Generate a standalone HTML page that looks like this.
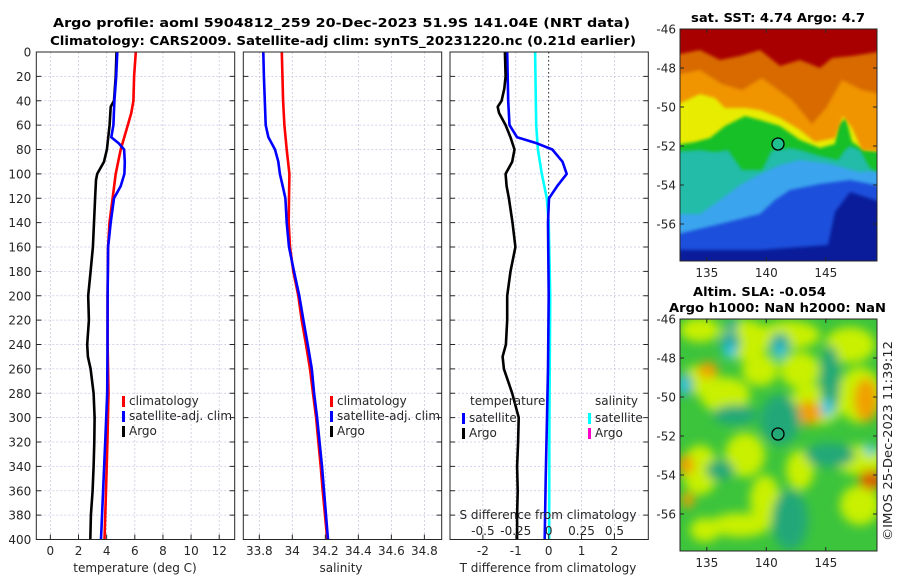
<!DOCTYPE html>
<html><head><meta charset="utf-8">
<style>
body{margin:0;background:#fff;}
svg{display:block;font-family:"DejaVu Sans","Liberation Sans",sans-serif;}
.t{font-size:12px;fill:#262626;}
.b{font-size:12.5px;font-weight:bold;fill:#000;}
</style></head>
<body>
<svg id="fig" width="900" height="580" viewBox="0 0 900 580" xmlns="http://www.w3.org/2000/svg">
<defs>
<filter id="blur" x="-20%" y="-20%" width="140%" height="140%"><feGaussianBlur stdDeviation="5"/></filter>
<filter id="blur2" x="-20%" y="-20%" width="140%" height="140%"><feGaussianBlur stdDeviation="1.5"/></filter>
<clipPath id="c1"><rect x="680" y="29" width="197" height="232"/></clipPath>
<clipPath id="c2"><rect x="680" y="319" width="197" height="232"/></clipPath>
</defs>
<text class="b" x="53" y="27" textLength="577" lengthAdjust="spacingAndGlyphs">Argo profile: aoml 5904812_259 20-Dec-2023 51.9S 141.04E (NRT data)</text>
<text class="b" x="50" y="45" textLength="586" lengthAdjust="spacingAndGlyphs">Climatology: CARS2009. Satellite-adj clim: synTS_20231220.nc (0.21d earlier)</text>

<!-- SST map -->
<g clip-path="url(#c1)">
<rect x="680" y="29" width="197" height="232" fill="#0a1c9a"/>
<polygon fill="#1a50dc" filter="url(#blur2)" points="670,20 890,20 890,205 850,192 835,212 828,245 760,250 670,250"/>
<polygon fill="#3aa4ee" filter="url(#blur2)" points="670,20 890,20 890,188 850,180 820,184 790,190 775,200 760,214 720,224 670,236"/>
<polygon fill="#22bca8" filter="url(#blur2)" points="670,20 890,20 890,170 860,172 830,164 800,160 780,165 760,174 740,185 720,200 700,214 670,214"/>
<polygon fill="#12c028" filter="url(#blur2)" points="670,20 890,20 890,178 870,168 860,150 850,146 845,150 838,160 820,156 800,150 790,148 772,150 762,170 742,170 728,150 715,152 700,150 670,152"/>
<polygon fill="#e8ec00" filter="url(#blur2)" points="670,20 890,20 890,152 865,150 852,142 846,118 838,124 835,144 820,148 800,140 780,126 760,120 745,116 725,126 710,138 695,142 670,146"/>
<polygon fill="#f09400" filter="url(#blur2)" points="670,20 890,20 890,152 862,150 852,128 843,116 835,138 815,142 800,130 780,118 760,110 745,108 725,108 715,98 700,94 670,108"/>
<polygon fill="#d86a00" filter="url(#blur2)" points="670,20 890,20 890,96 862,90 842,80 826,108 812,124 792,100 762,78 742,90 722,84 700,70 670,76"/>
<polygon fill="#a80000" filter="url(#blur2)" points="670,20 890,20 890,50 852,56 832,58 820,68 800,60 780,66 760,50 740,56 720,60 700,50 670,56"/>
<circle cx="778" cy="144" r="6" fill="#20c090" stroke="#000" stroke-width="1.3"/>
</g>
<rect x="680" y="29" width="197" height="232" fill="none" stroke="#262626" stroke-width="1"/>
<text class="b" x="691" y="22" textLength="174" lengthAdjust="spacingAndGlyphs">sat. SST: 4.74 Argo: 4.7</text>

<!-- SLA map -->
<g clip-path="url(#c2)">
<rect x="680" y="319" width="197" height="232" fill="#3cc43c"/>
<g filter="url(#blur)">
<ellipse cx="700" cy="330" rx="20" ry="12" fill="#c8f000"/>
<ellipse cx="745" cy="340" rx="25" ry="20" fill="#c8f000"/>
<ellipse cx="790" cy="335" rx="30" ry="14" fill="#c8f000"/>
<ellipse cx="850" cy="345" rx="25" ry="18" fill="#c8f000"/>
<ellipse cx="700" cy="380" rx="18" ry="15" fill="#c8f000"/>
<ellipse cx="725" cy="395" rx="25" ry="18" fill="#c8f000"/>
<ellipse cx="760" cy="370" rx="18" ry="16" fill="#c8f000"/>
<ellipse cx="800" cy="370" rx="20" ry="18" fill="#c8f000"/>
<ellipse cx="815" cy="405" rx="28" ry="20" fill="#c8f000"/>
<ellipse cx="860" cy="395" rx="22" ry="28" fill="#c8f000"/>
<ellipse cx="700" cy="470" rx="18" ry="25" fill="#c8f000"/>
<ellipse cx="745" cy="455" rx="20" ry="22" fill="#c8f000"/>
<ellipse cx="765" cy="500" rx="15" ry="25" fill="#c8f000"/>
<ellipse cx="740" cy="525" rx="30" ry="12" fill="#c8f000"/>
<ellipse cx="800" cy="470" rx="14" ry="20" fill="#c8f000"/>
<ellipse cx="860" cy="460" rx="25" ry="15" fill="#c8f000"/>
<ellipse cx="860" cy="505" rx="20" ry="20" fill="#c8f000"/>
<ellipse cx="705" cy="530" rx="15" ry="12" fill="#c8f000"/>
<ellipse cx="708" cy="370" rx="10" ry="8" fill="#f0a000"/>
<ellipse cx="808" cy="413" rx="14" ry="12" fill="#f0a000"/>
<ellipse cx="866" cy="400" rx="12" ry="22" fill="#f0a000"/>
<ellipse cx="686" cy="465" rx="8" ry="10" fill="#f0a000"/>
<ellipse cx="688" cy="500" rx="6" ry="8" fill="#f0a000"/>
<ellipse cx="871" cy="480" rx="12" ry="10" fill="#d86000"/>
<ellipse cx="735" cy="415" rx="22" ry="10" fill="#20a878"/>
<ellipse cx="780" cy="420" rx="20" ry="25" fill="#20a878"/>
<ellipse cx="720" cy="470" rx="14" ry="10" fill="#20a878"/>
<ellipse cx="830" cy="455" rx="25" ry="12" fill="#20a878"/>
<ellipse cx="790" cy="520" rx="18" ry="30" fill="#20a878"/>
<ellipse cx="830" cy="380" rx="10" ry="35" fill="#20a878"/>
<ellipse cx="730" cy="343" rx="10" ry="12" fill="#20a8a0"/>
<ellipse cx="780" cy="345" rx="10" ry="12" fill="#20a8a0"/>
<ellipse cx="685" cy="385" rx="8" ry="12" fill="#20a8a0"/>
<ellipse cx="730" cy="352" rx="6" ry="7" fill="#30c8e8"/>
<ellipse cx="780" cy="352" rx="5" ry="7" fill="#30c8e8"/>
<ellipse cx="827" cy="408" rx="6" ry="9" fill="#30c8e8"/>
<ellipse cx="870" cy="450" rx="5" ry="6" fill="#30c8e8"/>
<ellipse cx="684" cy="385" rx="5" ry="8" fill="#30c8e8"/>
<ellipse cx="732" cy="325" rx="6" ry="6" fill="#20a8a0"/>
</g>
<circle cx="778" cy="434" r="6" fill="none" stroke="#000" stroke-width="1.3"/>
</g>
<rect x="680" y="319" width="197" height="232" fill="none" stroke="#262626" stroke-width="1"/>
<text class="b" x="693" y="296" textLength="133" lengthAdjust="spacingAndGlyphs">Altim. SLA: -0.054</text>
<text class="b" x="669" y="312" textLength="217" lengthAdjust="spacingAndGlyphs">Argo h1000: NaN h2000: NaN</text>
<text class="t" transform="translate(892,441) rotate(-90)" text-anchor="middle" textLength="200" lengthAdjust="spacingAndGlyphs">©IMOS 25-Dec-2023 11:39:12</text>

<g id="plots"></g>
</svg>
<script>
const depthTicks = [0,20,40,60,80,100,120,140,160,180,200,220,240,260,280,300,320,340,360,380,400];
const tTicks = [0,2,4,6,8,10,12];
const sTicks = [33.8,34,34.2,34.4,34.6,34.8];
const sTickLabels = ["33.8","34","34.2","34.4","34.6","34.8"];
const dTicks = [-2,-1,0,1,2];
const sdTickLabels = ["-0.5","-0.25","0","0.25","0.5"];
const sdTicks = [-0.5,-0.25,0,0.25,0.5];
const latTicks = [-46,-48,-50,-52,-54,-56];
const lonTicks = [135,140,145];

const tClimDepth = [0,20,40,50,60,80,100,120,140,160,200,240,280,320,360,400];
const tClim = [6.07,5.95,5.9,5.75,5.5,5.0,4.64,4.42,4.2,4.1,4.07,4.07,4.13,4.05,3.95,3.85];
const tSatDepth = [0,20,40,60,70,75,80,90,100,110,120,140,160,200,240,280,320,360,400];
const tSat = [4.76,4.68,4.55,4.48,4.33,4.86,5.24,5.29,5.26,5.0,4.52,4.29,4.1,4.07,4.06,4.04,3.9,3.75,3.6];
const tArgoDepth = [0,20,40,45,60,80,90,100,105,120,140,160,180,200,220,240,250,260,280,300,320,340,360,380,400];
const tArgo = [4.7,4.64,4.52,4.29,4.21,4.02,3.81,3.33,3.24,3.18,3.1,3.02,2.86,2.69,2.74,2.62,2.67,2.86,3.07,3.14,3.12,3.07,3.0,2.88,2.84];

const sClimDepth = [0,40,60,80,100,120,140,160,180,200,220,240,260,280,300,320,340,360,380,400];
const sClim = [33.936,33.944,33.952,33.966,33.982,33.98,33.978,33.986,34.006,34.036,34.057,34.083,34.107,34.125,34.144,34.158,34.172,34.184,34.198,34.212];
const sSatDepth = [0,20,40,60,70,80,90,100,110,120,140,160,180,200,220,240,260,280,300,340,400];
const sSat = [33.824,33.828,33.833,33.839,33.855,33.895,33.915,33.925,33.942,33.958,33.966,33.98,34.01,34.042,34.067,34.093,34.118,34.132,34.15,34.18,34.216];

const dTSatDepth = [0,40,60,70,75,80,90,100,110,120,140,200,260,300,350,400];
const dTSat = [-1.26,-1.23,-1.19,-0.96,-0.35,0.11,0.42,0.55,0.26,0.01,-0.02,0.0,-0.02,-0.05,-0.09,-0.12];
const dTArgoDepth = [0,20,30,40,45,50,60,70,80,90,100,110,120,140,160,180,200,220,240,250,260,280,300,320,340,360,380,400];
const dTArgo = [-1.33,-1.31,-1.35,-1.43,-1.55,-1.51,-1.31,-1.16,-1.04,-1.11,-1.31,-1.28,-1.21,-1.1,-1.01,-1.16,-1.26,-1.26,-1.3,-1.4,-1.36,-1.11,-0.91,-0.93,-0.96,-0.94,-0.96,-0.96];
const dSSatDepth = [0,60,80,100,120,140,200,300,400];
const dSSat = [-0.103,-0.095,-0.082,-0.052,-0.014,0.0,0.012,0.006,0.003];

const NS = 'http://www.w3.org/2000/svg';
const root = document.getElementById('plots');
const Y0 = 52, Y1 = 539.5;
const yScale = d => Y0 + (d/400)*(Y1-Y0);
function mk(tag, attrs, parent){ const e=document.createElementNS(NS,tag); for(const k in attrs) e.setAttribute(k,attrs[k]); (parent||root).appendChild(e); return e; }
function txt(x,y,s,anchor,parent){ const e=mk('text',{x:x,y:y,'text-anchor':anchor||'middle',class:'t'},parent); e.textContent=s; return e; }

function panel(name, x0, x1, dmin, dmax){
  const g = mk('g',{});
  
  
  const xs = v => x0 + (v-dmin)/(dmax-dmin)*(x1-x0);
  return {g, xs};
}
function grid(p, x0, x1, ticks){
  depthTicks.forEach(d=>{ mk('line',{x1:x0,x2:x1,y1:yScale(d),y2:yScale(d),stroke:'#c4c8e8','stroke-width':0.8,'stroke-dasharray':'2,2'},p.g); });
  ticks.forEach(v=>{ mk('line',{x1:p.xs(v),x2:p.xs(v),y1:Y0,y2:Y1,stroke:'#d0c4d8','stroke-width':0.8,'stroke-dasharray':'2,2'},p.g); });
}
function frame(p, x0, x1, ticks, labels, showY){
  mk('rect',{x:x0,y:Y0,width:x1-x0,height:Y1-Y0,fill:'none',stroke:'#262626','stroke-width':1},p.g);
  depthTicks.forEach(d=>{
    const y=yScale(d);
    mk('line',{x1:x0,x2:x0+5,y1:y,y2:y,stroke:'#262626','stroke-width':1},p.g);
    mk('line',{x1:x1-5,x2:x1,y1:y,y2:y,stroke:'#262626','stroke-width':1},p.g);
    if(showY){ const t=txt(x0-5,y+4.5,String(d),'end',p.g);   }
  });
  ticks.forEach((v,i)=>{
    const x=p.xs(v);
    mk('line',{x1:x,x2:x,y1:Y1,y2:Y1-5,stroke:'#262626','stroke-width':1},p.g);
    const t=txt(x,555,labels[i],'middle',p.g);
    
    
  });
}
function line(p, xsFn, vals, depths, color, name, w){
  const pts = vals.map((v,i)=>xsFn(v).toFixed(1)+','+yScale(depths[i]).toFixed(1)).join(' ');
  const e = mk('polyline',{points:pts,fill:'none',stroke:color,'stroke-width':w||2.6,'stroke-linejoin':'round'},p.g);
  
  
}
function legend(p, x, y, items){
  items.forEach((it,i)=>{
    mk('rect',{x:x,y:y+i*15-9,width:3,height:11,fill:it[1]},p.g);
    const t=txt(x+7,y+i*15,it[0],'start',p.g);
    
    
  });
}

// Panel 1 temperature
const p1 = panel('temperature-panel', 36.3, 234.7, -1, 13.1);
grid(p1,36.3,234.7,tTicks);
line(p1,p1.xs,tArgo,tArgoDepth,'#000000','temperature-argo-line');
line(p1,p1.xs,tClim,tClimDepth,'#ff0000','temperature-climatology-line');
line(p1,p1.xs,tSat,tSatDepth,'#0000ff','temperature-satellite-line');
frame(p1,36.3,234.7,tTicks,tTicks.map(String),true);
legend(p1,122,405,[['climatology','#ff0000'],['satellite-adj. clim','#0000ff'],['Argo','#000000']]);
{const t=txt(135,572,'temperature (deg C)','middle',p1.g);  }

// Panel 2 salinity
const p2 = panel('salinity-panel', 243.3, 441.7, 33.703, 34.905);
grid(p2,243.3,441.7,sTicks);
line(p2,p2.xs,sClim,sClimDepth,'#ff0000','salinity-climatology-line');
line(p2,p2.xs,sSat,sSatDepth,'#0000ff','salinity-satellite-line');
frame(p2,243.3,441.7,sTicks,sTickLabels,false);
legend(p2,330,405,[['climatology','#ff0000'],['satellite-adj. clim','#0000ff'],['Argo','#000000']]);
{const t=txt(341,572,'salinity','middle',p2.g);  }

// Panel 3 differences
const p3 = panel('difference-panel', 450, 648.3, -3, 3.03);
const sdScale = v => p3.xs(v*4);
grid(p3,450,648.3,dTicks);
mk('line',{x1:p3.xs(0),x2:p3.xs(0),y1:Y0,y2:Y1,stroke:'#333','stroke-width':1,'stroke-dasharray':'1.5,2.5'},p3.g);
line(p3,sdScale,dSSat,dSSatDepth,'#00ffff','salinity-diff-satellite-line');
line(p3,p3.xs,dTSat,dTSatDepth,'#0000ff','temperature-diff-satellite-line');
line(p3,p3.xs,dTArgo,dTArgoDepth,'#000000','temperature-diff-argo-line');
frame(p3,450,648.3,dTicks,dTicks.map(String),false);
{const t=txt(470,405,'temperature','start',p3.g);  }
{const t=txt(595,405,'salinity','start',p3.g);  }
legend(p3,462,422,[['satellite','#0000ff'],['Argo','#000000']]);
legend(p3,588,422,[['satellite','#00ffff'],['Argo','#ff00cc']]);
{const t=txt(548,519,'S difference from climatology','middle',p3.g);  }
sdTicks.forEach((v,i)=>{ const t=txt(sdScale(v),535,sdTickLabels[i],'middle',p3.g);   });
{const t=txt(548,572,'T difference from climatology','middle',p3.g);  }

// map axes
const lonX = lon => 680 + (lon-132.75)*11.9;
[[29,277],[319,567]].forEach(([top,lab],k)=>{
  const g = mk('g',{});
  
  
  latTicks.forEach(lat=>{
    const y = top + (-46-lat)*19.5;
    mk('line',{x1:680,x2:684,y1:y,y2:y,stroke:'#262626'},g);
    mk('line',{x1:873,x2:877,y1:y,y2:y,stroke:'#262626'},g);
    const t=txt(676,y+4.5,String(lat),'end',g);
    
    
  });
  lonTicks.forEach(lon=>{
    const x=lonX(lon);
    mk('line',{x1:x,x2:x,y1:top+232,y2:top+228,stroke:'#262626'},g);
    mk('line',{x1:x,x2:x,y1:top,y2:top+4,stroke:'#262626'},g);
    const t=txt(x,lab,String(lon),'middle',g);
    
    
  });
});
</script>
</body></html>
